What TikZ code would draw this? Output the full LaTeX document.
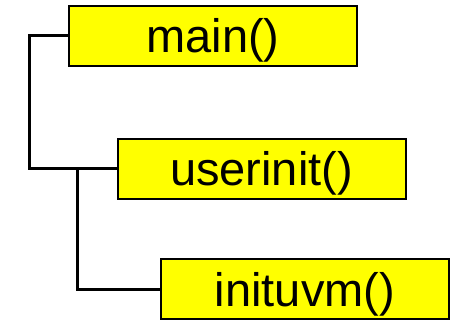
\documentclass[tikz,border=0pt]{standalone}
\usepackage{fontspec}
\setmainfont{Liberation Sans}
\usepackage{tikz}
\usetikzlibrary{positioning}
\definecolor{callfill}{HTML}{FFFF00}

\tikzset{
  callbox/.style={draw=black, fill=callfill, line width=2pt,
    minimum width=288pt, minimum height=60pt, inner sep=0pt,
    text height=44pt, text depth=10pt,
    font=\fontsize{47}{51}\selectfont},
  callline/.style={draw=black, line width=3pt}
}

\begin{document}
\begin{tikzpicture}[x=1pt, y=-1pt]
\useasboundingbox (0,0) rectangle (457,320);
\node[callbox] (main) at (213,36) {main()};
\node[callbox] (userinit) at (261.5,169) {userinit()};
\node[callbox] (inituvm) at (305,289) {inituvm()};
% call tree
\draw[callline] (main.west) -- ++(-39,0) |- (userinit.west);
\draw[callline] (inituvm.west) -- ++(-83,0) |- (userinit.west);
\end{tikzpicture}
\end{document}
